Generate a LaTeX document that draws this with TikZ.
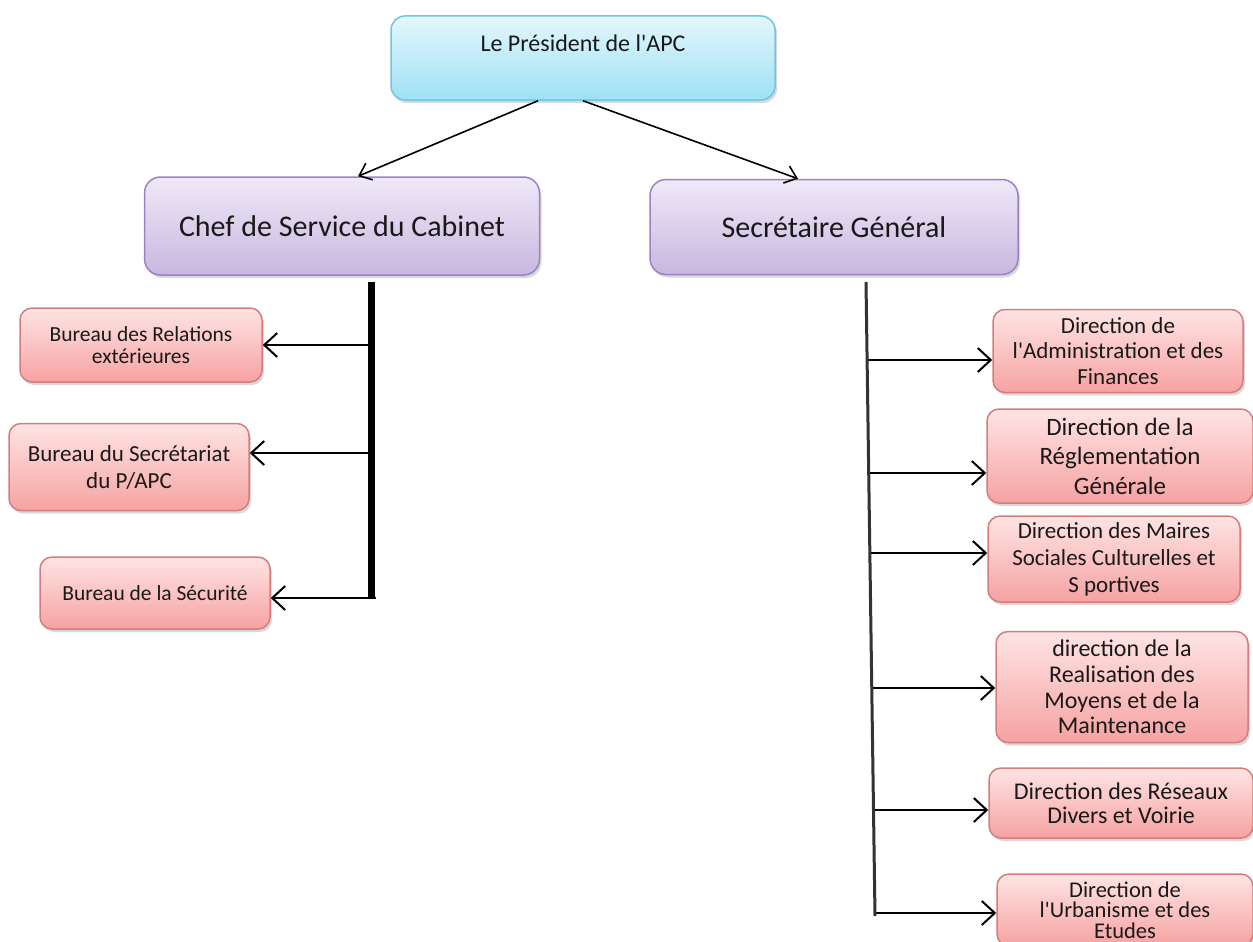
\documentclass[tikz,border=0pt]{standalone}
\usepackage{fontspec}
\setmainfont{Carlito}[Ligatures=TeXOff]
\usetikzlibrary{arrows.meta, positioning, shadows}

\definecolor{presTop}{HTML}{E4F7FD}
\definecolor{presBot}{HTML}{9EE0F5}
\definecolor{presLine}{HTML}{74C4DC}
\definecolor{headTop}{HTML}{EFE9F7}
\definecolor{headBot}{HTML}{C8B7E0}
\definecolor{headLine}{HTML}{9C82C3}
\definecolor{unitTop}{HTML}{FFE4E4}
\definecolor{unitBot}{HTML}{F6A2A2}
\definecolor{unitLine}{HTML}{D77C7C}

\begin{document}
\begin{tikzpicture}[x=1pt, y=-1pt, font=\fontsize{23}{25}\selectfont]
  \tikzstyle{box}=[draw, rounded corners=13pt, align=center, inner sep=0pt, line width=1.5pt, text=black!90,
    drop shadow={shadow xshift=2pt, shadow yshift=-3pt, opacity=0.3}]
  \tikzstyle{presnode}=[box, top color=presTop, bottom color=presBot, draw=presLine, minimum width=384pt,
    text height=36pt, text depth=48pt, rounded corners=14pt, font=\fontsize{24}{26}\selectfont]
  \tikzstyle{headnode}=[box, top color=headTop, bottom color=headBot, draw=headLine, rounded corners=16pt,
    font=\fontsize{30}{34}\selectfont]
  \tikzstyle{unitnode}=[box, top color=unitTop, bottom color=unitBot, draw=unitLine, rounded corners=12pt]
  \tikzstyle{toparr}=[-{Straight Barb[length=11pt, width=18pt]}, line width=1.6pt]
  \tikzstyle{arr}=[-{Straight Barb[length=13pt, width=24pt]}, line width=2pt]
  \tikzstyle{cabline}=[line width=7pt]
  \tikzstyle{sgline}=[line width=3pt, black!80]

  \useasboundingbox (0,0) rectangle (1253,942);
  \clip (0,0) rectangle (1253,942);

  % top
  \node[presnode] (pres) at (583,58) {Le Président de l'APC};
  \node[headnode, minimum width=395pt, minimum height=98pt] (chef) at (342,226) {Chef de Service du Cabinet};
  \node[headnode, minimum width=368pt, minimum height=95pt] (secgen) at (834,227) {Secrétaire Général};

  % cabinet side
  \node[unitnode, minimum width=242pt, minimum height=74pt, font=\fontsize{21.5}{22}\selectfont]
    (bur_rel) at (141,345) {Bureau des Relations\\extérieures};
  \node[unitnode, minimum width=240pt, minimum height=87pt, font=\fontsize{23}{27}\selectfont]
    (bur_sec) at (129,467) {Bureau du Secrétariat\\du P/APC};
  \node[unitnode, minimum width=230pt, minimum height=72pt, font=\fontsize{21.5}{22}\selectfont]
    (bur_secu) at (155,593) {Bureau de la Sécurité};

  % secretariat general side
  \node[unitnode, minimum width=250pt, minimum height=83pt, font=\fontsize{23}{25.5}\selectfont]
    (dir_adm) at (1118,351) {Direction de\\l'Administration et des\\Finances};
  \node[unitnode, minimum width=266pt, minimum height=94pt, font=\fontsize{25}{29.5}\selectfont]
    (dir_regl) at (1120,456) {Direction de la\\Réglementation\\Générale};
  \node[unitnode, minimum width=252pt, minimum height=86pt, font=\fontsize{23}{27}\selectfont]
    (dir_soc) at (1114,559) {Direction des Maires\\Sociales Culturelles et\\S portives};
  \node[unitnode, minimum width=252pt, minimum height=111pt, font=\fontsize{24}{25.7}\selectfont]
    (dir_real) at (1122,687) {direction de la\\Realisation des\\Moyens et de la\\Maintenance};
  \node[unitnode, minimum width=264pt, minimum height=70pt, font=\fontsize{24}{24}\selectfont]
    (dir_res) at (1121,803) {Direction des Réseaux\\Divers et Voirie};
  \node[unitnode, minimum width=256pt, minimum height=72pt, font=\fontsize{22.5}{20.5}\selectfont]
    (dir_urb) at (1125,910) {Direction de\\l'Urbanisme et des\\Etudes};

  % trunk points
  \coordinate (cab_top) at (371,282);
  \coordinate (cab_bot) at (371,597);
  \coordinate (cab_1) at (368,345);
  \coordinate (cab_2) at (368,453);
  \coordinate (cab_3) at (376,598);
  \coordinate (sg_top) at (866,282);
  \coordinate (sg_bot) at (875,916);
  \coordinate (sg_1) at (867,360);
  \coordinate (sg_2) at (869,473);
  \coordinate (sg_3) at (870,553);
  \coordinate (sg_4) at (872,688);
  \coordinate (sg_5) at (873,810);
  \coordinate (sg_6) at (875,913);

  % arrows
  \draw[toparr] ([xshift=-45pt]pres.south) -- ([xshift=16pt]chef.north);
  \draw[toparr] (pres.south) -- ([xshift=-36pt]secgen.north);
  \draw[arr] (cab_1) -- (cab_1 -| bur_rel.east);
  \draw[arr] (cab_2) -- (cab_2 -| bur_sec.east);
  \draw[arr] (cab_3) -- (cab_3 -| bur_secu.east);
  \draw[cabline] (cab_top) -- (cab_bot);
  \draw[arr] (sg_1) -- (sg_1 -| dir_adm.west);
  \draw[arr] (sg_2) -- (sg_2 -| dir_regl.west);
  \draw[arr] (sg_3) -- (sg_3 -| dir_soc.west);
  \draw[arr] (sg_4) -- (sg_4 -| dir_real.west);
  \draw[arr] (sg_5) -- (sg_5 -| dir_res.west);
  \draw[arr] (sg_6) -- (sg_6 -| dir_urb.west);
  \draw[sgline] (sg_top) -- (sg_bot);

\end{tikzpicture}
\end{document}
